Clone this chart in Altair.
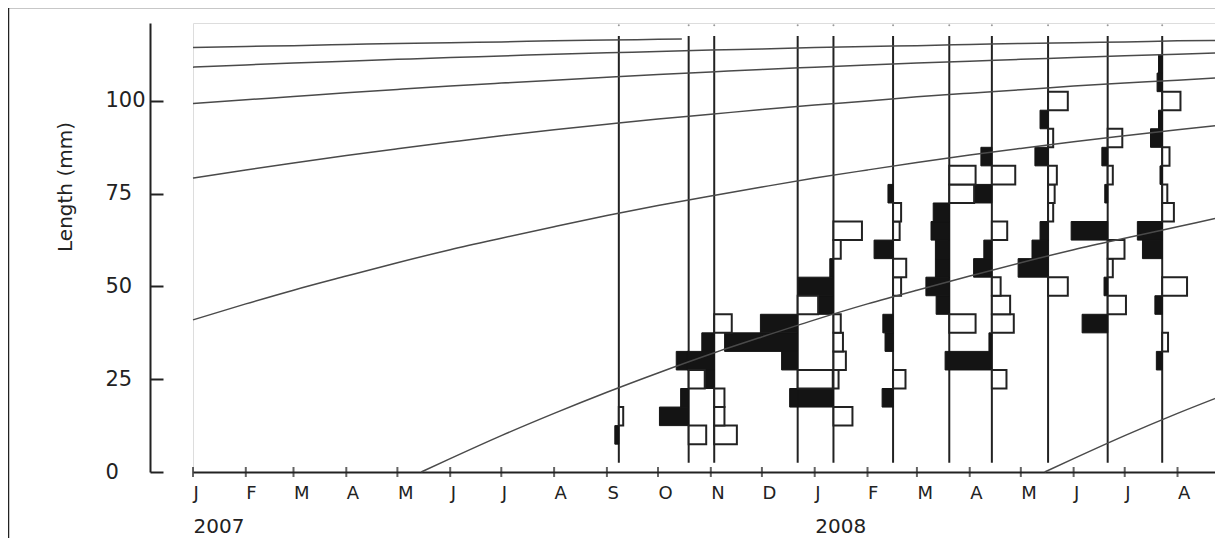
import altair as alt
import pandas as pd

# ---------------- data ----------------
month_starts = ["2007-01-01", "2007-02-01", "2007-03-01", "2007-04-01", "2007-05-01",
                "2007-06-01", "2007-07-01", "2007-08-01", "2007-09-01", "2007-10-01",
                "2007-11-01", "2007-12-01", "2008-01-01", "2008-02-01", "2008-03-01",
                "2008-04-01", "2008-05-01", "2008-06-01", "2008-07-01", "2008-08-01"]
year_starts = ["2007-01-01", "2008-01-01"]
axis_start = "2007-01-01"
axis_end = "2008-08-23"
length_ticks = [0, 25, 50, 75, 100]

curve_dates = month_starts + [axis_end]

# growth curves (length in mm), one per cohort
cohort_2002_dates = month_starts[:10] + ["2007-10-15"]
cohort_2002 = [114.4, 114.7, 114.9, 115.2, 115.5, 115.7, 115.9, 116.2, 116.4, 116.6, 116.7]
cohort_2003 = [109.1, 109.7, 110.2, 110.7, 111.2, 111.7, 112.1, 112.6, 113.0, 113.3, 113.7,
               114.0, 114.4, 114.7, 114.9, 115.2, 115.5, 115.7, 115.9, 116.2, 116.3]
cohort_2004 = [99.3, 100.3, 101.2, 102.2, 103.1, 104.0, 104.8, 105.6, 106.4, 107.1, 107.8,
               108.5, 109.1, 109.7, 110.2, 110.7, 111.2, 111.7, 112.2, 112.6, 112.9]
cohort_2005 = [79.2, 81.4, 83.3, 85.3, 87.1, 88.9, 90.6, 92.2, 93.7, 95.1, 96.4,
               97.7, 98.9, 100.0, 101.1, 102.1, 103.0, 104.0, 104.8, 105.6, 106.2]
cohort_2006 = [41.0, 45.3, 49.0, 52.8, 56.4, 59.9, 63.0, 66.1, 69.1, 71.8, 74.4,
               76.8, 79.2, 81.4, 83.4, 85.4, 87.2, 89.0, 90.6, 92.2, 93.3]
cohort_2007_dates = ["2007-05-15"] + curve_dates[5:]
cohort_2007 = [0.0, 3.6, 9.8, 15.8, 21.5, 26.7, 31.8, 36.4, 41.0, 45.3, 49.0, 52.8,
               56.4, 59.9, 63.0, 66.1, 68.3]
cohort_2008_dates = ["2008-05-15", "2008-06-01", "2008-07-01", "2008-08-01", axis_end]
cohort_2008 = [0.0, 3.6, 9.8, 15.8, 19.8]

# length-frequency samples: (length class mid-point mm, restructured score)
sample_dates = ["2007-09-08", "2007-10-19", "2007-11-03", "2007-12-22", "2008-01-12",
                "2008-02-16", "2008-03-20", "2008-04-14", "2008-05-17", "2008-06-21",
                "2008-07-23"]
s01 = [(10, -0.055), (15, 0.06)]
s02 = [(10, 0.24), (15, -0.40), (20, -0.11), (25, 0.22), (30, -0.17)]
s03 = [(10, 0.31), (15, 0.14), (20, 0.14), (25, -0.14), (30, -0.37), (35, -0.17), (40, 0.24)]
s04 = [(20, -0.11), (25, 0.48), (30, -0.22), (35, -1.0), (40, -0.51), (45, 0.28)]
s05 = [(15, 0.26), (20, -0.49), (25, 0.07), (30, 0.17), (35, 0.13), (40, 0.10), (45, -0.21),
       (50, -0.48), (55, -0.05), (60, 0.10), (65, 0.39)]
s06 = [(20, -0.15), (25, 0.17), (35, -0.11), (40, -0.14), (50, 0.11), (55, 0.18), (60, -0.26),
       (65, 0.09), (70, 0.11), (75, -0.07)]
s07 = [(40, 0.36), (45, -0.18), (50, -0.32), (55, -0.19), (60, -0.19), (65, -0.25), (70, -0.22),
       (75, 0.34), (80, 0.36)]
s08 = [(25, 0.20), (30, -0.64), (35, -0.04), (40, 0.30), (45, 0.25), (50, 0.12), (55, -0.25),
       (60, -0.11), (65, 0.21), (75, -0.25), (80, 0.32), (85, -0.15)]
s09 = [(50, 0.27), (55, -0.41), (60, -0.22), (65, -0.11), (70, 0.07), (75, 0.09), (80, 0.12),
       (85, -0.18), (90, 0.07), (95, -0.11), (100, 0.27)]
s10 = [(40, -0.35), (45, 0.25), (50, -0.05), (55, 0.07), (60, 0.23), (65, -0.50), (75, -0.04),
       (80, 0.07), (85, -0.08), (90, 0.20)]
s11 = [(30, -0.08), (35, 0.08), (45, -0.10), (50, 0.34), (60, -0.27), (65, -0.34), (70, 0.16),
       (75, 0.07), (80, -0.03), (85, 0.10), (90, -0.16), (95, -0.05), (100, 0.25), (105, -0.07),
       (110, -0.05)]
samples = [s01, s02, s03, s04, s05, s06, s07, s08, s09, s10, s11]

class_width = 5.0
line_bottom = 2.5
line_top = 117.5
dot_level = 120.4

# ---------------- drawing parameters ----------------
W, H = 1022, 449
Y_OFFSET = 43
DAYS_PER_UNIT = 42.9            # horizontal size of a score of 1, in days
MS_PER_UNIT = DAYS_PER_UNIT * 86400000
INK = "#222222"
FONT = "DejaVu Sans"

# ---------------- tables ----------------
rows = []
for d, s in zip(sample_dates, samples):
    for mid, score in s:
        rows.append({"date": d, "lo": mid - class_width / 2, "hi": mid + class_width / 2,
                     "score": score})
bars_df = pd.DataFrame(rows)

lines_df = pd.DataFrame({"date": sample_dates,
                         "lo": [line_bottom] * len(sample_dates),
                         "hi": [line_top] * len(sample_dates),
                         "dot": [dot_level] * len(sample_dates)})

curve_rows = []
for name, ds, vs in [("2002", cohort_2002_dates, cohort_2002),
                     ("2003", curve_dates, cohort_2003),
                     ("2004", curve_dates, cohort_2004),
                     ("2005", curve_dates, cohort_2005),
                     ("2006", curve_dates, cohort_2006),
                     ("2007", cohort_2007_dates, cohort_2007),
                     ("2008", cohort_2008_dates, cohort_2008)]:
    for d, v in zip(ds, vs):
        curve_rows.append({"cohort": name, "date": d, "length": v})
curves_df = pd.DataFrame(curve_rows)

ticks_df = pd.DataFrame({"date": month_starts, "zero": [0] * len(month_starts)})


def dt(s):
    y, m, d = (int(p) for p in s.split("-"))
    return alt.DateTime(year=y, month=m, date=d, utc=True)


x_scale = alt.Scale(type="utc", domain=[dt(axis_start), dt(axis_end)])
y_scale = alt.Scale(domain=[0, 121], nice=False, zero=False)

month_axis = alt.Axis(orient="bottom", values=[dt(s) for s in month_starts], format="%b",
                      labelExpr="substring(datum.label, 0, 1)", labelAlign="left",
                      labelBaseline="top", labelPadding=12, labelFontSize=18,
                      labelFont=FONT, labelColor=INK, labelOverlap=False, labelFlush=False,
                      labelBound=False, domain=True, domainColor=INK, domainWidth=2,
                      ticks=False, tickSize=0, grid=False, title=None)
year_axis = alt.Axis(orient="bottom", values=[dt(s) for s in year_starts], format="%Y",
                     labelAlign="left", labelBaseline="top", labelPadding=44,
                     labelFontSize=20, labelFont=FONT, labelColor=INK, labelOverlap=False,
                     labelFlush=False, labelBound=False, domain=False, ticks=False,
                     tickSize=0, grid=False, title=None)
left_axis = alt.Axis(orient="left", offset=Y_OFFSET, values=length_ticks, domain=True,
                     domainColor=INK, domainWidth=2, ticks=False, tickSize=0,
                     labelAlign="left", labelBaseline="middle", labelPadding=45,
                     labelFontSize=21, labelFont=FONT, labelColor=INK, grid=False,
                     title="Length (mm)", titleFontSize=20, titleFont=FONT,
                     titleFontWeight="normal", titleColor=INK, titleX=-85, titleY=163.5,
                     titleAngle=270, titleAlign="center", titleBaseline="middle")
inner_tick_axis = alt.Axis(orient="right", offset=-(W + Y_OFFSET), values=length_ticks,
                           domain=False, labels=False, ticks=True, tickSize=13, tickWidth=2,
                           tickColor=INK, grid=False, title=None)

# sample lines (carry the inward y ticks)
sample_lines = alt.Chart(lines_df).mark_rule(color=INK, strokeWidth=2).encode(
    x=alt.X("date:T", scale=x_scale, axis=None),
    y=alt.Y("lo:Q", scale=y_scale, axis=inner_tick_axis),
    y2="hi:Q",
)
top_dots = alt.Chart(lines_df).mark_point(filled=True, size=4, color="#9a9a9a", opacity=1).encode(
    x=alt.X("date:T", scale=x_scale, axis=None),
    y=alt.Y("dot:Q", scale=y_scale, axis=None),
)

bar_base = alt.Chart(bars_df).transform_calculate(
    end=f"time(datum.date) + datum.score * {MS_PER_UNIT}"
)
black_bars = bar_base.transform_filter("datum.score < 0").mark_rect(
    color="#141414", stroke="#141414", strokeWidth=1).encode(
    x=alt.X("date:T", scale=x_scale, axis=None),
    x2="end:T",
    y=alt.Y("lo:Q", scale=y_scale, axis=None),
    y2="hi:Q",
)
white_bars = bar_base.transform_filter("datum.score > 0").mark_rect(
    fill="white", stroke=INK, strokeWidth=2).encode(
    x=alt.X("date:T", scale=x_scale, axis=None),
    x2="end:T",
    y=alt.Y("lo:Q", scale=y_scale, axis=None),
    y2="hi:Q",
)

growth = alt.Chart(curves_df).mark_line(color="#4a4a4a", strokeWidth=1.5,
                                        interpolate="monotone").encode(
    x=alt.X("date:T", scale=x_scale, axis=month_axis),
    y=alt.Y("length:Q", scale=y_scale, axis=left_axis),
    detail="cohort:N",
)

month_ticks = alt.Chart(ticks_df).mark_tick(orient="vertical", size=10, thickness=2,
                                            color=INK).encode(
    x=alt.X("date:T", scale=x_scale, axis=year_axis),
    y=alt.Y("zero:Q", scale=y_scale, axis=None),
)

frame_df = pd.DataFrame({"k": [0]})
frame_top = alt.Chart(frame_df).mark_rule(color=INK, strokeWidth=1.5).encode(
    x=alt.value(-184.5), x2=alt.value(W), y=alt.value(-15.5))
frame_left = alt.Chart(frame_df).mark_rule(color=INK, strokeWidth=1.5).encode(
    x=alt.value(-184.5), y=alt.value(-15.5), y2=alt.value(H + 80))

chart = alt.layer(
    sample_lines, top_dots, black_bars, white_bars, growth, month_ticks, frame_top, frame_left
).resolve_axis(
    x="independent", y="independent"
).properties(
    width=W, height=H,
    autosize=alt.AutoSizeParams(type="none"),
    padding={"left": 185, "top": 15, "right": 0, "bottom": 66},
).configure_view(stroke=None).configure(background="white")

chart.save("out.html", embed_options={"renderer": "svg", "actions": False})
